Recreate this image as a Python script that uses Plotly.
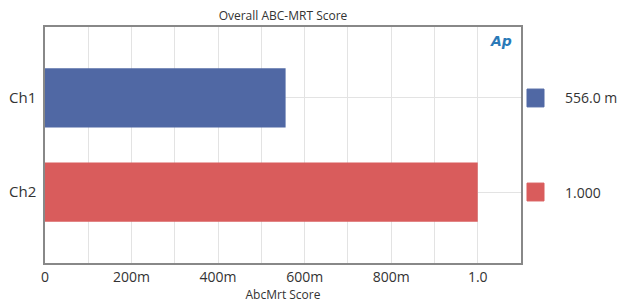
import plotly.graph_objects as go

channels = ["Ch1", "Ch2"]
scores = [0.556, 1.000]
score_labels = ["556.0 m", "1.000"]
colors = ["#5068A4", "#D95C5C"]
tick_vals = [0, 0.2, 0.4, 0.6, 0.8, 1.0]
tick_text = ["0", "200m", "400m", "600m", "800m", "1.0"]

font_family = "Open Sans, DejaVu Sans, sans-serif"

fig = go.Figure()
fig.add_trace(go.Bar(
    y=channels, x=scores, orientation="h",
    marker=dict(color=colors, line=dict(width=0)),
    width=0.63, showlegend=False,
))

fig.update_layout(
    width=638, height=305,
    margin=dict(l=45, r=117, t=27, b=42, autoexpand=False),
    paper_bgcolor="white", plot_bgcolor="white",
    font=dict(family=font_family, color="#333333"),
    title=dict(text="Overall ABC-MRT Score", x=0.5, xref="paper",
               y=1, yref="container", yanchor="top", pad=dict(t=12),
               font=dict(size=12, color="#333333")),
    xaxis=dict(range=[0, 1.1], tickvals=tick_vals, ticktext=tick_text,
               tickfont=dict(size=14, color="#333333"),
               showgrid=True, gridcolor="#E3E3E3",
               minor=dict(dtick=0.1, showgrid=True, gridcolor="#E3E3E3", ticks=""),
               showline=True, linecolor="#888888", linewidth=1.5, mirror=True,
               zeroline=False, ticks="", automargin=False,
               title=dict(text="AbcMrt Score", font=dict(size=12, color="#333333"), standoff=2)),
    yaxis=dict(range=[1.755, -0.755], tickfont=dict(size=15, color="#333333"),
               showgrid=True, gridcolor="#E3E3E3", automargin=False,
               showline=True, linecolor="#888888", linewidth=1.5, mirror=True,
               ticks="", ticklabelstandoff=4),
)

# side value legend
for i, (lab, col) in enumerate(zip(score_labels, colors)):
    fig.add_shape(type="rect", xref="paper", yref="y",
                  x0=1.0 + 6/476, x1=1.0 + 23/476,
                  y0=i - 0.095, y1=i + 0.095,
                  fillcolor=col, line=dict(color=col, width=1))
    fig.add_annotation(xref="paper", yref="y", x=1.0 + 42/476, y=i,
                       text=lab, showarrow=False, xanchor="left",
                       font=dict(size=14, color="#333333"))

# AP logo
fig.add_annotation(xref="paper", yref="paper", x=0.985, y=0.985,
                   text="<b><i>Ap</i></b>", showarrow=False,
                   xanchor="right", yanchor="top",
                   font=dict(size=14, color="#2A7AB8", family="DejaVu Sans"))

fig.write_html("out.html", config={"displayModeBar": False},
               post_script="document.body.style.margin='0';document.body.style.overflow='hidden';")
